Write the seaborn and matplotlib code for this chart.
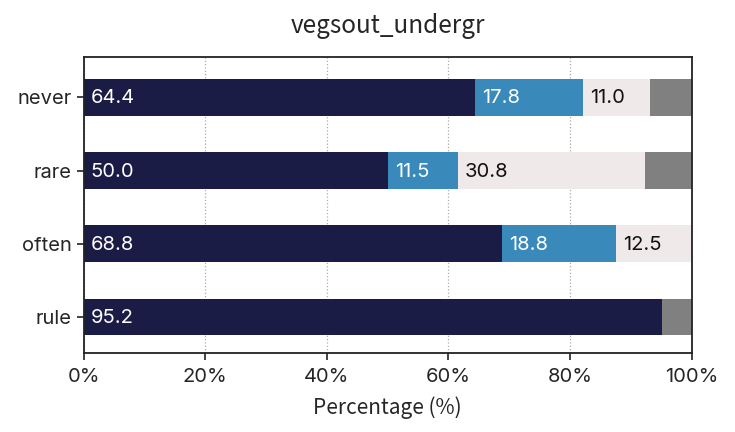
import matplotlib
matplotlib.use("Agg")
import matplotlib.pyplot as plt
import seaborn as sns
import numpy as np
import pandas as pd

categories = ["never", "rare", "often", "rule"]
seg1 = [64.4, 50.0, 68.8, 95.2]
seg2 = [17.8, 11.5, 18.8, 0.0]
seg3 = [11.0, 30.8, 12.5, 0.0]
seg4 = [6.8, 7.7, 0.0, 4.8]
xticks = [0, 20, 40, 60, 80, 100]
title = "vegsout_undergr"
xlabel = "Percentage (%)"

colors = ["#1b1c45", "#3a89bb", "#efe9e9", "#808080"]
text_colors = ["white", "white", "#111111", None]

sns.set_theme(style="white")
plt.rcParams["font.family"] = ["Noto Sans CJK JP", "DejaVu Sans"]
wide_font = ["Inter", "DejaVu Sans"]

segs = [seg1, seg2, seg3, seg4]
cum = np.cumsum(np.array(segs), axis=0)

fig, ax = plt.subplots(figsize=(7.35, 4.32), dpi=100)

# draw cumulative totals from widest to narrowest
for i in range(3, -1, -1):
    df = pd.DataFrame({"cat": categories, "val": cum[i]})
    sns.barplot(data=df, y="cat", x="val", color=colors[i], orient="h",
                width=0.5, ax=ax, saturation=1, zorder=2,
                linewidth=0, edgecolor="none")

# labels
for i in range(3):
    for j, cat in enumerate(categories):
        v = segs[i][j]
        if v < 5:
            continue
        left = cum[i][j] - v
        ax.annotate(f"{v:.1f}", xy=(left, j), xytext=(5, -0.8), textcoords="offset points",
                    ha="left", va="center", color=text_colors[i], fontsize=14.5,
                    family=wide_font, zorder=3)

ax.set_xlim(0, 100)
ax.set_ylim(3.49, -0.55)
ax.set_xticks(xticks)
ax.set_xticklabels([f"{t}%" for t in xticks])
ax.xaxis.grid(True, linestyle=":", color="#aaaaaa", linewidth=0.9, zorder=0)
ax.set_axisbelow(True)
ax.set_ylabel("")
ax.set_xlabel(xlabel, fontsize=15, labelpad=7)
ax.set_title(title, fontsize=17.5, pad=17)
ax.tick_params(axis="both", length=5, width=1.2, color="#222222",
               bottom=True, left=True, labelsize=14.5)
ax.tick_params(axis="x", pad=6)
for lab in ax.get_yticklabels() + ax.get_xticklabels():
    lab.set_family(wide_font)
for s in ax.spines.values():
    s.set_color("#222222")
    s.set_linewidth(1.3)

fig.subplots_adjust(left=0.114, right=0.941, top=0.868, bottom=0.183)
fig.savefig("out.png", dpi=100)
